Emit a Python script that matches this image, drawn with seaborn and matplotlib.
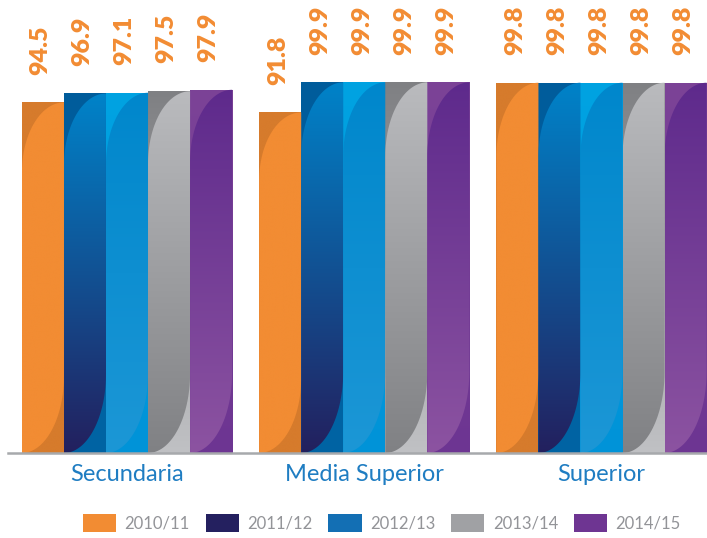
import numpy as np
import pandas as pd
import matplotlib
matplotlib.use('Agg')
import matplotlib.pyplot as plt
import seaborn as sns
from matplotlib.path import Path
from matplotlib.patches import PathPatch, Patch
from matplotlib.colors import LinearSegmentedColormap

# datos del gráfico
niveles = ['Secundaria', 'Media Superior', 'Superior']
ciclos = ['2010/11', '2011/12', '2012/13', '2013/14', '2014/15']
secundaria = [94.5, 96.9, 97.1, 97.5, 97.9]
media_superior = [91.8, 99.9, 99.9, 99.9, 99.9]
superior = [99.8, 99.8, 99.8, 99.8, 99.8]

# colores base (leyenda) y degradados de cada barra
colores = ['#F28C33', '#24205F', '#136FB4', '#A0A1A4', '#6E3592']
# (exterior arriba, exterior abajo, interior arriba, interior abajo)
degradados = [
    ('#D67B2C', '#D67B2C', '#F28C33', '#F28C33'),
    ('#005C9B', '#0064A4', '#0083C9', '#23205E'),
    ('#00A3E2', '#0093D8', '#0087CC', '#1C97D6'),
    ('#7F8083', '#C0C1C4', '#BABBBE', '#808184'),
    ('#7C4397', '#6D3592', '#5E2A8C', '#8C53A1'),
]
naranja = '#F28C33'
azul_texto = '#1F7DC2'

filas = []
for nivel, valores in zip(niveles, [secundaria, media_superior, superior]):
    for ciclo, v in zip(ciclos, valores):
        filas.append({'nivel': nivel, 'ciclo': ciclo, 'valor': v})
df = pd.DataFrame(filas)

sns.set_style('white')
plt.rcParams['font.family'] = ['Lato', 'DejaVu Sans']

fig = plt.figure(figsize=(7.07, 5.38), dpi=100)
ax = fig.add_axes([8 / 707, 85 / 538, 699 / 707, 453 / 538])

sns.barplot(data=df, x='nivel', y='valor', hue='ciclo', order=niveles,
            hue_order=ciclos, palette=colores, width=0.886, saturation=1,
            legend=False, ax=ax, linewidth=0)


def gradiente(c_arriba, c_abajo):
    return LinearSegmentedColormap.from_list('g', [c_abajo, c_arriba])


grad = np.linspace(0, 1, 256).reshape(-1, 1)

for i, cont in enumerate(ax.containers):
    ext_a, ext_b, int_a, int_b = degradados[i]
    for barra in cont:
        x0 = barra.get_x()
        w = barra.get_width()
        h = barra.get_height()
        # parte exterior
        im = ax.imshow(grad, extent=(x0, x0 + w, 0, h), origin='lower',
                       aspect='auto', cmap=gradiente(ext_a, ext_b),
                       interpolation='bicubic', zorder=2)
        im.set_clip_path(barra)
        # parte interior con curvas en S
        dt = 0.2 * h
        db = 0.22 * h
        t1 = np.linspace(-np.pi / 2, 0, 40)
        t2 = np.linspace(np.pi / 2, np.pi, 40)
        xs = list(x0 + w * np.cos(t1)) + list(x0 + w + w * np.cos(t2))
        ys = list(db + db * np.sin(t1)) + list(h - dt + dt * np.sin(t2))
        verts = list(zip(xs, ys)) + [(x0, 0)]
        pp = PathPatch(Path(verts), transform=ax.transData)
        im2 = ax.imshow(grad, extent=(x0, x0 + w, 0, h), origin='lower',
                        aspect='auto', cmap=gradiente(int_a, int_b),
                        interpolation='bicubic', zorder=3)
        im2.set_clip_path(pp)
        # etiqueta de valor
        ax.annotate(f'{h:.1f}', xy=(x0 + w / 2 - 0.01, h), xytext=(0, 20),
                    textcoords='offset points', rotation=90, ha='center',
                    va='bottom', color=naranja, fontsize=18,
                    fontweight='heavy', zorder=5)

ax.set_xlim(-0.5016, 2.4447)
ax.set_ylim(0, 122.1)
ax.set_xlabel('')
ax.set_ylabel('')
ax.set_yticks([])
ax.set_xticks(range(len(niveles)))
ax.set_xticklabels(niveles, color=azul_texto, fontsize=17)
ax.tick_params(axis='x', length=0, pad=8)
for lado in ['left', 'top', 'right']:
    ax.spines[lado].set_visible(False)
ax.spines['bottom'].set_color('#A7A9AC')
ax.spines['bottom'].set_linewidth(1.8)
ax.spines['bottom'].set_zorder(6)

manijas = [Patch(facecolor=c, edgecolor='none') for c in colores]
fig.legend(manijas, ciclos, loc='center', bbox_to_anchor=(0.540, 15 / 538),
           ncol=5, frameon=False, prop={'size': 12, 'weight': 'normal'},
           handlelength=2.0, handleheight=1.2, handletextpad=0.5,
           columnspacing=0.95, labelcolor='#939498')

fig.savefig('out.png', dpi=100)
